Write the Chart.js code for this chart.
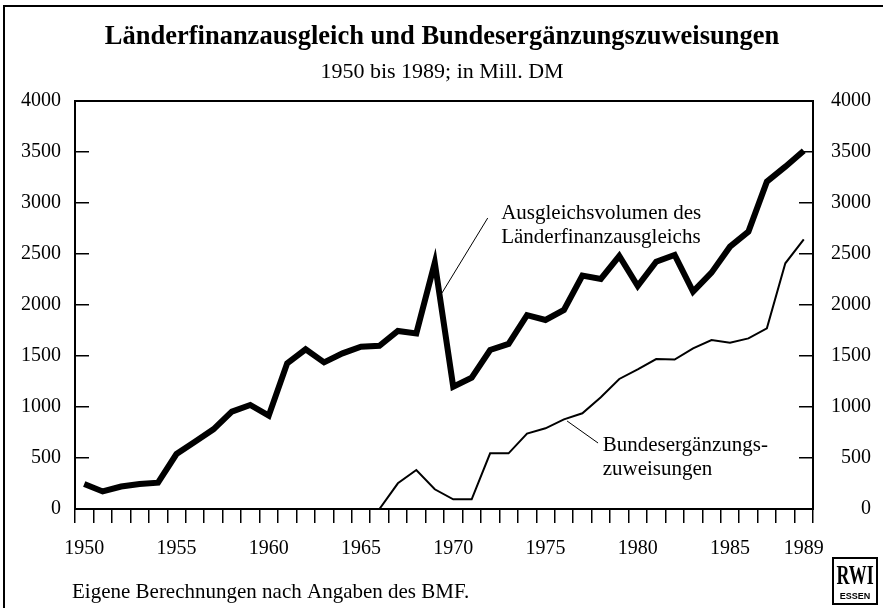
<!DOCTYPE html>
<html>
<head>
<meta charset="utf-8">
<script src="https://cdn.jsdelivr.net/npm/chart.js@4/dist/chart.umd.min.js"></script>
<style>
  body { margin: 0; background: #fff; }
  #wrap { width: 883px; height: 608px; position: relative; }
</style>
</head>
<body>
<div id="wrap"><canvas id="chart-line"></canvas></div>
<script>
// Jahre (Kategorien)
const years = [1950, 1951, 1952, 1953, 1954, 1955, 1956, 1957, 1958, 1959,
  1960, 1961, 1962, 1963, 1964, 1965, 1966, 1967, 1968, 1969,
  1970, 1971, 1972, 1973, 1974, 1975, 1976, 1977, 1978, 1979,
  1980, 1981, 1982, 1983, 1984, 1985, 1986, 1987, 1988, 1989];
const shownYears = [1950, 1955, 1960, 1965, 1970, 1975, 1980, 1985, 1989];

// Ausgleichsvolumen des Laenderfinanzausgleichs, Mill. DM
const ausgleichsvolumen = [245, 172, 220, 245, 258, 539, 660, 781, 954, 1020,
  915, 1428, 1566, 1438, 1526, 1591, 1600, 1745, 1722, 2415,
  1199, 1288, 1559, 1618, 1900, 1853, 1951, 2288, 2255, 2480,
  2186, 2425, 2490, 2131, 2317, 2572, 2719, 3209, 3356, 3513];

// Bundesergaenzungszuweisungen, Mill. DM
const bundesergaenzung = [0, 0, 0, 0, 0, 0, 0, 0, 0, 0,
  0, 0, 0, 0, 0, 0, 0, 252, 382, 193,
  95, 95, 546, 546, 740, 791, 879, 938, 1095, 1275,
  1369, 1470, 1465, 1575, 1657, 1631, 1673, 1771, 2409, 2644];

const yTicks = [0, 500, 1000, 1500, 2000, 2500, 3000, 3500, 4000];

const titleText = 'Länderfinanzausgleich und Bundesergänzungszuweisungen';
const subtitleText = '1950 bis 1989; in Mill. DM';
const sourceText = 'Eigene Berechnungen nach Angaben des BMF.';

// Beschriftungen in Datenkoordinaten (Index, Wert)
const notes = [
  { lines: ['Ausgleichsvolumen des', 'Länderfinanzausgleichs'], at: [22.6, 2900], from: [21.87, 2853], to: [19.39, 2118] },
  { lines: ['Bundesergänzungs-', 'zuweisungen'], at: [28.1, 618], from: [27.85, 647], to: [26.17, 863] }
];

const serif = "'Liberation Serif', 'Times New Roman', serif";

const decor = {
  id: 'decor',
  afterDraw(chart) {
    const c = chart.ctx;
    const a = chart.chartArea;
    const xs = chart.scales.x;
    const ys = chart.scales.y;
    c.save();
    c.fillStyle = '#000';
    c.strokeStyle = '#000';

    // Rahmen aussen
    c.lineWidth = 2;
    c.beginPath();
    c.moveTo(4, 608);
    c.lineTo(4, 6);
    c.lineTo(883, 6);
    c.stroke();

    // Rahmen Diagramm
    c.strokeRect(a.left, a.top, a.right - a.left, a.bottom - a.top);

    // Titel
    c.textAlign = 'center';
    c.textBaseline = 'middle';
    c.font = 'bold 26.5px ' + serif;
    c.fillText(titleText, 442, 37);
    c.font = '22px ' + serif;
    c.fillText(subtitleText, 442, 72);

    // Quelle
    c.textAlign = 'left';
    c.font = '21px ' + serif;
    c.fillText(sourceText, 72, 592);

    // Beschriftungen
    c.font = '21px ' + serif;
    c.lineWidth = 1;
    notes.forEach(n => {
      const tx = xs.getPixelForValue(n.at[0]);
      const ty = ys.getPixelForValue(n.at[1]);
      n.lines.forEach((t, i) => c.fillText(t, tx, ty + i * 24));
      c.beginPath();
      c.moveTo(xs.getPixelForValue(n.from[0]), ys.getPixelForValue(n.from[1]));
      c.lineTo(xs.getPixelForValue(n.to[0]), ys.getPixelForValue(n.to[1]));
      c.stroke();
    });

    // RWI Logo
    c.lineWidth = 2;
    c.strokeRect(833, 558, 44, 46);
    c.textAlign = 'center';
    c.save();
    c.translate(855, 577);
    c.scale(0.64, 1);
    c.font = 'bold 28px ' + serif;
    c.fillText('RWI', 0, 0);
    c.restore();
    c.font = 'bold 9px "Liberation Sans", Arial, sans-serif';
    c.fillText('ESSEN', 855, 597);
    c.restore();
  }
};

const ctx1 = document.getElementById('chart-line').getContext('2d');
new Chart(ctx1, {
  type: 'line',
  data: {
    labels: years,
    datasets: [{
      label: 'Ausgleichsvolumen des Länderfinanzausgleichs',
      data: ausgleichsvolumen,
      borderColor: '#000',
      borderWidth: 6,
      borderJoinStyle: 'miter',
      pointRadius: 0,
      tension: 0,
      fill: false
    }, {
      label: 'Bundesergänzungszuweisungen',
      data: bundesergaenzung,
      borderColor: '#000',
      borderWidth: 2,
      borderJoinStyle: 'miter',
      pointRadius: 0,
      tension: 0,
      fill: false
    }]
  },
  options: {
    responsive: true,
    maintainAspectRatio: false,
    animation: false,
    layout: { padding: { top: 101, right: 12, left: 0, bottom: 0 } },
    plugins: {
      legend: { display: false },
      tooltip: { enabled: false }
    },
    scales: {
      x: {
        type: 'category',
        offset: true,
        grid: { offset: true, drawOnChartArea: false, tickLength: 14, color: '#000', lineWidth: 1.5 },
        border: { color: '#000', width: 2 },
        ticks: {
          autoSkip: false,
          maxRotation: 0,
          padding: 14,
          color: '#000',
          font: { family: serif, size: 20 },
          callback: (val, i) => shownYears.includes(years[i]) ? String(years[i]) : ''
        },
        afterFit: (scale) => { scale.height = 99; }
      },
      y: {
        position: 'left',
        min: 0,
        max: 4000,
        afterBuildTicks: (scale) => { scale.ticks = yTicks.map(v => ({ value: v })); },
        grid: { drawOnChartArea: false, tickLength: -14, color: '#000', lineWidth: 1.5 },
        border: { color: '#000', width: 2 },
        ticks: { padding: 28, color: '#000', font: { family: serif, size: 20 }, callback: (v) => String(v) },
        afterFit: (scale) => { scale.width = 75; }
      },
      y2: {
        position: 'right',
        min: 0,
        max: 4000,
        afterBuildTicks: (scale) => { scale.ticks = yTicks.map(v => ({ value: v })); },
        grid: { drawOnChartArea: false, tickLength: -14, color: '#000', lineWidth: 1.5 },
        border: { color: '#000', width: 2 },
        ticks: { crossAlign: 'far', padding: 28, color: '#000', font: { family: serif, size: 20 }, callback: (v) => String(v) },
        afterFit: (scale) => { scale.width = 58; }
      }
    }
  },
  plugins: [decor]
});
</script>
</body>
</html>
